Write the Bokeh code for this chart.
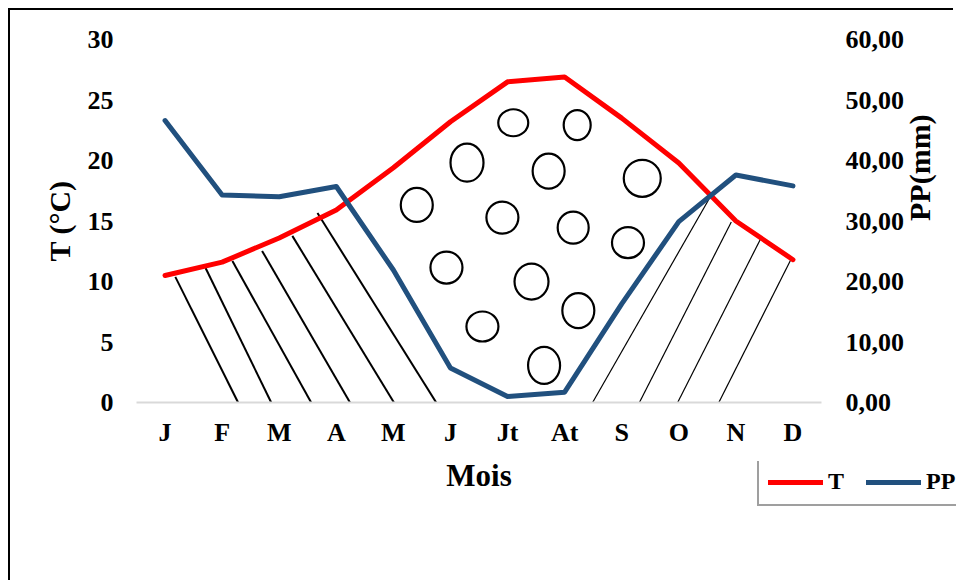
import math
from bokeh.plotting import figure
from bokeh.models import Range1d, LinearAxis, FixedTicker, Legend, LegendItem
from bokeh.embed import file_html
from bokeh.resources import INLINE

# ---------------- data ----------------
months = ["J", "F", "M", "A", "M", "J", "Jt", "At", "S", "O", "N", "D"]
month_idx = list(range(12))
temperature = [10.5, 11.6, 13.6, 15.9, 19.4, 23.2, 26.5, 26.9, 23.5, 19.8, 15.0, 11.8]
precip = [46.6, 34.3, 34.0, 35.7, 21.9, 5.7, 1.0, 1.7, 16.3, 29.9, 37.6, 35.8]
t_ticks = [0, 5, 10, 15, 20, 25, 30]
t_tick_labels = ["0", "5", "10", "15", "20", "25", "30"]
pp_ticks = [0, 10, 20, 30, 40, 50, 60]
pp_tick_labels = ["0,00", "10,00", "20,00", "30,00", "40,00", "50,00", "60,00"]

# Gaussen-diagram decorations (month index, °C)
hatch_wet1_x0 = [0.18, 0.71, 1.18, 1.70, 2.23, 2.67]
hatch_wet1_y0 = [10.38, 11.12, 11.70, 12.53, 13.77, 15.66]
hatch_wet1_x1 = [1.28, 1.86, 2.56, 3.24, 4.01, 4.83]
hatch_wet1_y1 = [0.0, 0.0, 0.0, 0.0, 0.0, -0.6]
hatch_wet2_x0 = [9.52, 9.92, 10.45, 10.96]
hatch_wet2_y0 = [16.74, 14.92, 13.68, 11.78]
hatch_wet2_x1 = [7.49, 8.31, 8.98, 9.68]
hatch_wet2_y1 = [0.0, 0.0, 0.0, -0.2]
dots_x = [6.10, 7.22, 5.29, 6.72, 8.36, 4.41, 5.91, 7.15, 8.11, 4.93, 6.42, 7.24, 5.56, 6.64]
dots_y = [23.12, 22.93, 19.82, 19.13, 18.53, 16.33, 15.28, 14.45, 13.21, 11.15, 9.99, 7.60, 6.28, 3.06]
dots_w = [30, 27, 33, 32, 37, 32, 32, 31, 32, 32, 34, 32, 32, 32]
dots_h = [27, 30, 38, 35, 37, 34, 32, 32, 31, 32, 36, 35, 30, 37]

FONT = "Liberation Serif"
RED = "#FF0000"
BLUE = "#21507E"

p = figure(width=945, height=572,
           x_range=Range1d(-0.5, 11.5), y_range=Range1d(0, 30),
           output_backend="svg", toolbar_location=None,
           min_border_left=126, min_border_right=133,
           min_border_top=29, min_border_bottom=180)
p.styles = {"margin-left": "8px", "margin-top": "8px",
            "border-top": "2px solid black", "border-left": "2px solid black"}
p.xgrid.visible = False
p.ygrid.visible = False
p.outline_line_color = None
p.background_fill_color = "white"
p.border_fill_color = "white"
p.extra_y_ranges = {"pp": Range1d(0, 60)}

# x axis
xa = p.xaxis[0]
xa.ticker = FixedTicker(ticks=month_idx)
xa.major_label_overrides = {i: m for i, m in zip(month_idx, months)}
xa.axis_line_color = "#D9D9D9"
xa.axis_line_width = 2
xa.major_tick_line_color = None
xa.minor_tick_line_color = None
xa.major_tick_out = 0
xa.major_tick_in = 0
xa.major_label_text_font = FONT
xa.major_label_text_font_style = "bold"
xa.major_label_text_font_size = "26px"
xa.major_label_text_color = "black"
xa.major_label_standoff = 15
xa.axis_label = "Mois"
xa.axis_label_text_font = FONT
xa.axis_label_text_font_style = "bold"
xa.axis_label_text_font_size = "31px"
xa.axis_label_text_color = "black"
xa.axis_label_standoff = 8

# left axis
ya = p.yaxis[0]
ya.ticker = FixedTicker(ticks=t_ticks)
ya.major_label_overrides = {t: s for t, s in zip(t_ticks, t_tick_labels)}
ya.axis_line_color = None
ya.major_tick_line_color = None
ya.minor_tick_line_color = None
ya.major_tick_out = 0
ya.major_tick_in = 0
ya.major_label_text_font = FONT
ya.major_label_text_font_style = "bold"
ya.major_label_text_font_size = "26px"
ya.major_label_text_color = "black"
ya.major_label_standoff = 23
ya.axis_label = "T (°C)"
ya.axis_label_text_font = FONT
ya.axis_label_text_font_style = "bold"
ya.axis_label_text_font_size = "30px"
ya.axis_label_text_color = "black"
ya.axis_label_standoff = 9

# right axis
ra = LinearAxis(y_range_name="pp", ticker=FixedTicker(ticks=pp_ticks),
                major_label_overrides={t: s for t, s in zip(pp_ticks, pp_tick_labels)})
ra.axis_line_color = None
ra.major_tick_line_color = None
ra.minor_tick_line_color = None
ra.major_tick_out = 0
ra.major_tick_in = 0
ra.major_label_text_font = FONT
ra.major_label_text_font_style = "bold"
ra.major_label_text_font_size = "26px"
ra.major_label_text_color = "black"
ra.major_label_standoff = 24
ra.axis_label = "PP(mm)"
ra.axis_label_text_font = FONT
ra.axis_label_text_font_style = "bold"
ra.axis_label_text_font_size = "30px"
ra.axis_label_text_color = "black"
ra.axis_label_text_line_height = 0.2
ra.axis_label_standoff = 12
ra.axis_label_orientation = math.pi / 2
p.add_layout(ra, "right")

# decorations
p.segment(hatch_wet1_x0, hatch_wet1_y0, hatch_wet1_x1, hatch_wet1_y1,
          line_color="black", line_width=2)
p.segment(hatch_wet2_x0, hatch_wet2_y0, hatch_wet2_x1, hatch_wet2_y1,
          line_color="black", line_width=1.2)
p.ellipse(dots_x, dots_y, width=dots_w, height=dots_h,
          width_units="screen", height_units="screen",
          fill_color=None, line_color="black", line_width=2.2)

# series
r_t = p.line(month_idx, temperature, line_color=RED, line_width=5,
             line_join="round", line_cap="round")
r_pp = p.line(month_idx, precip, y_range_name="pp", line_color=BLUE, line_width=5,
              line_join="round", line_cap="round")

# legend box (overlaid, lying partly outside the chart like the original)
pl = figure(width=203, height=47, x_range=Range1d(-100, -99), y_range=Range1d(-100, -99),
            x_axis_location=None, y_axis_location=None,
            output_backend="svg", toolbar_location=None,
            min_border=0, min_border_left=0, min_border_right=0,
            min_border_top=0, min_border_bottom=0)
pl.styles = {"position": "absolute", "left": "753px", "top": "461px", "z-index": "10"}
pl.grid.visible = False
pl.outline_line_color = None
pl.background_fill_alpha = 0
pl.border_fill_alpha = 0
lt = pl.line(month_idx, temperature, line_color=RED, line_width=5, line_cap="round")
lp = pl.line(month_idx, precip, line_color=BLUE, line_width=5, line_cap="round")

legend = Legend(items=[LegendItem(label="T", renderers=[lt]),
                       LegendItem(label="PP", renderers=[lp])],
                orientation="horizontal", location=(4, 2))
legend.margin = 0
legend.padding = 9
legend.spacing = 18
legend.glyph_width = 55
legend.glyph_height = 24
legend.label_standoff = 5
legend.label_text_font = FONT
legend.label_text_font_style = "bold"
legend.label_text_font_size = "24px"
legend.label_text_color = "black"
legend.border_line_color = "#404040"
legend.border_line_width = 2
legend.background_fill_color = "white"
legend.background_fill_alpha = 1
pl.add_layout(legend, "center")

open("out.html", "w").write(file_html([p, pl], INLINE))
